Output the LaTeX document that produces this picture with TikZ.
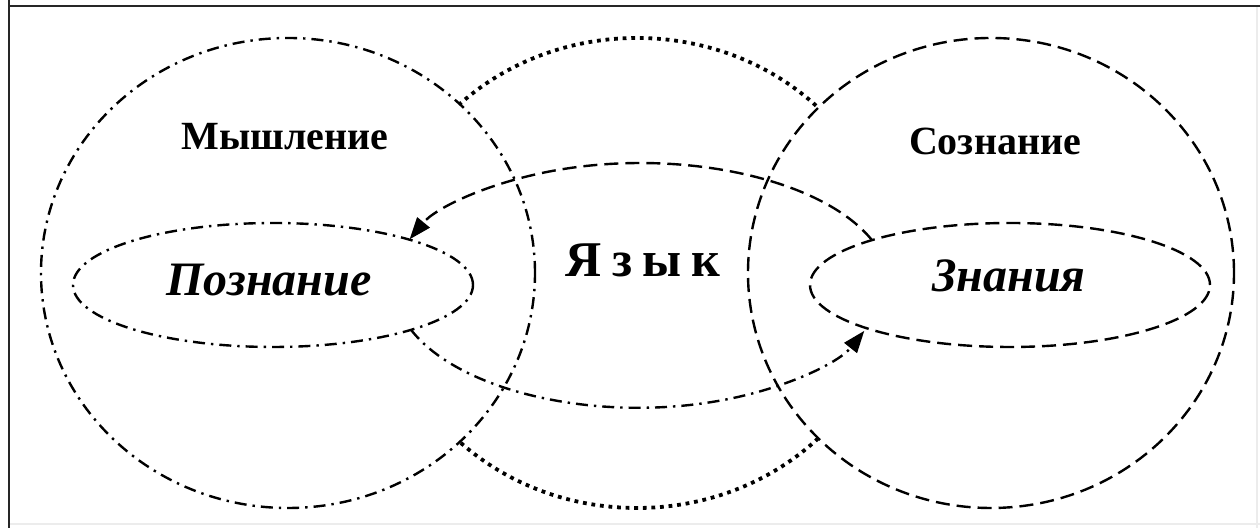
\documentclass[tikz,border=0pt]{standalone}
\usepackage{fontspec}
\setmainfont{Liberation Serif}
\usetikzlibrary{shapes.geometric,arrows.meta}
\tikzset{
  ring/.style={ellipse, inner sep=0pt, outer sep=0pt},
  dashdot/.style={line width=1.2pt, dash pattern=on 6pt off 3pt on 1.2pt off 3pt},
  longdash/.style={line width=1.2pt, dash pattern=on 7pt off 3.5pt},
  dotline/.style={line width=1.9pt, dash pattern=on 1.9pt off 2.4pt},
  tip/.style={-{Triangle[length=11pt,width=8pt]}},
  lbl/.style={font=\bfseries\fontsize{20}{24}\selectfont, inner sep=0pt},
  ilbl/.style={font=\bfseries\itshape\fontsize{24}{28}\selectfont, inner sep=0pt},
}
\begin{document}
\begin{tikzpicture}[x=0.5pt,y=0.5pt]
\useasboundingbox (0,0) rectangle (1260,528);
\fill[white] (0,0) rectangle (1260,528);
% frame
\draw[gray!15, line width=1pt] (9,4) -- (1260,4);
\draw[gray!15, line width=1pt] (1257,0) -- (1257,522);
\draw[black!85, line width=1.2pt] (8,522) -- (1260,522);
\draw[black!85, line width=1.2pt] (9,528) -- (9,0);
% middle dotted circle (behind)
\node[ring, draw, dotline, minimum width=255pt, minimum height=235pt] (yaz) at (637,255) {};
% left and right circles
\node[ring, draw, fill=white, dashdot, minimum width=247pt, minimum height=235pt] (mys) at (288,255) {};
\node[ring, draw, fill=white, longdash, minimum width=243pt, minimum height=235pt] (soz) at (991,255) {};
% inner ellipses
\node[ring, draw, dashdot, minimum width=200pt, minimum height=62pt] (pz) at (273,243) {};
\node[ring, draw, longdash, minimum width=200pt, minimum height=62pt] (zn) at (1010,243) {};
% arcs
\draw[longdash, tip] (zn.162) arc[start angle=21.6, end angle=158, x radius=124.5pt, y radius=61pt];
\draw[dashdot, tip] (pz.-18) arc[start angle=201.5, end angle=338, x radius=122pt, y radius=61.5pt];
% labels
\node[lbl] (tm) at (285,391) {Мышление};
\node[lbl] (ts) at (995,387) {Сознание};
\node[lbl, font=\bfseries\fontsize{25}{30}\selectfont] (ty) at (643,268) {Я\hspace{5pt}з\hspace{5pt}ы\hspace{5pt}к};
\node[ilbl] (tp) at (269,248) {Познание};
\node[ilbl] (tz) at (1009,252) {Знания};
\end{tikzpicture}
\end{document}
